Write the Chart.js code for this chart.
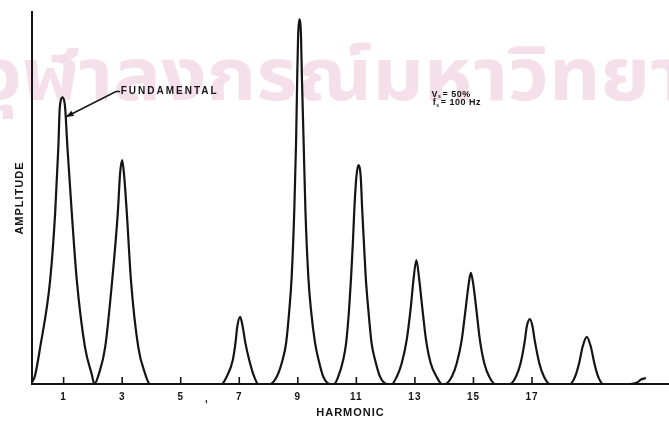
<!DOCTYPE html>
<html lang="en">
<head>
<meta charset="UTF-8">
<title>Harmonic spectrum</title>
<script src="https://cdn.jsdelivr.net/npm/chart.js"></script>
<style>
    html, body { margin: 0; padding: 0; background: #fff; }
    .wrap { position: relative; width: 669px; height: 422px; }
</style>
</head>
<body>
<div class="wrap"><canvas id="spectrum"></canvas></div>
<script>
// odd harmonics marked on the axis
const tickValues = [1, 3, 5, 7, 9, 11, 13, 15, 17];
const tickLabels = ["1", "3", "5", "7", "9", "11", "13", "15", "17"];

// the traced curve (amplitude: tallest peak = 100)
const traceHarmonic = [
    -0.07, 0.02, 0.20, 0.54, 0.71, 0.82, 0.87, 0.97, 1.05, 1.13, 1.28, 1.45, 1.73, 1.96, 2.05,
    2.21, 2.42, 2.66, 2.85, 2.93, 3.00, 3.06, 3.16, 3.30, 3.55, 3.78, 3.95,
    6.40, 6.57, 6.78, 6.87, 6.93, 7.03, 7.12, 7.21, 7.34, 7.51, 7.65,
    8.05, 8.28, 8.48, 8.60, 8.71, 8.79, 8.88, 8.94, 8.98, 9.01, 9.05, 9.11, 9.14, 9.20, 9.26, 9.36, 9.45, 9.59, 9.71, 9.87, 10.10,
    10.24, 10.38, 10.55, 10.65, 10.75, 10.82, 10.88, 10.93, 11.00, 11.07, 11.15, 11.20, 11.26, 11.32, 11.41, 11.52, 11.64, 11.81, 12.05,
    12.21, 12.38, 12.55, 12.72, 12.86, 12.95, 13.05, 13.15, 13.25, 13.38, 13.54, 13.74, 13.92,
    14.03, 14.26, 14.43, 14.60, 14.74, 14.84, 14.91, 14.99, 15.09, 15.22, 15.37, 15.54, 15.74,
    16.25, 16.45, 16.61, 16.76, 16.82, 16.93, 17.02, 17.09, 17.25, 17.41, 17.61,
    18.30, 18.47, 18.61, 18.73, 18.87, 19.01, 19.13, 19.26, 19.43,
    20.35, 20.59, 20.72, 20.86
];
const traceAmplitude = [
    0.6, 2.2, 10.1, 28.5, 46.8, 64.9, 75.9, 78.6, 75.9, 64.9, 46.8, 28.5, 10.1, 2.7, 0,
    2.9, 10.1, 28.5, 46.8, 57.8, 61.4, 57.8, 46.8, 28.5, 10.1, 2.9, 0,
    0, 2.0, 6.6, 11.2, 15.6, 18.4, 15.6, 11.2, 6.6, 2.0, 0,
    0, 2.0, 6.6, 11.2, 20.3, 29.3, 47.7, 66.0, 84.1, 95.3, 100, 95.3, 84.1, 66.0, 47.7, 29.3, 20.3, 11.2, 6.6, 2.0, 0,
    0, 2.0, 6.6, 11.2, 20.3, 29.3, 38.5, 47.7, 56.7, 60, 56.7, 47.7, 38.5, 29.3, 20.3, 11.2, 6.6, 2.0, 0,
    0, 2.0, 5.7, 12.1, 21.1, 28.5, 34, 28.5, 21.1, 12.1, 5.7, 2.0, 0,
    0, 2.0, 5.7, 12.1, 21.1, 27.6, 30.5, 27.6, 21.1, 12.1, 5.7, 2.0, 0,
    0, 2.0, 5.7, 12.1, 15.7, 17.8, 15.7, 12.1, 5.7, 2.0, 0,
    0, 2.0, 5.7, 10.2, 12.9, 10.2, 5.7, 2.0, 0,
    0, 0.4, 1.2, 1.6
];

const ink = '#141414';
const watermark = 'จุฬาลงกรณ์มหาวิทยาลัย';

const points = traceHarmonic.map((h, i) => ({ x: h, y: traceAmplitude[i] }));

// white paper + faint library stamp behind everything
const paper = {
    id: 'paper',
    beforeDraw(chart) {
        const ctx = chart.ctx;
        ctx.save();
        ctx.fillStyle = '#fff';
        ctx.fillRect(0, 0, chart.width, chart.height);
        ctx.font = 'bold 72px "Noto Sans Thai", "Noto Sans Thai Looped", Loma, Garuda, Waree, sans-serif';
        const w2 = ctx.measureText('จุ').width;
        const wEnd = ctx.measureText('จุฬาลงกรณ์มหาวิทย').width;
        const sx = 628 / (wEnd - w2);
        ctx.translate(22 - w2 * sx, 100);
        ctx.scale(sx, 1);
        ctx.fillStyle = '#f5e0ea';
        ctx.fillText(watermark, 0, 0);
        ctx.restore();
        ctx.letterSpacing = '1px';
    }
};

function subLabel(ctx, px, py, main, sub, rest) {
    ctx.font = 'bold 9px "Liberation Sans", Arial, sans-serif';
    ctx.fillText(main, px, py);
    const w = ctx.measureText(main).width;
    ctx.font = 'bold 5px "Liberation Sans", Arial, sans-serif';
    ctx.fillText(sub, px + w, py + 2.5);
    ctx.font = 'bold 9px "Liberation Sans", Arial, sans-serif';
    ctx.fillText(rest, px + w + 4.5, py);
}

// inner tick marks, arrow and notes
const marks = {
    id: 'marks',
    afterDraw(chart) {
        const { ctx, scales: { x, y } } = chart;
        const base = y.getPixelForValue(0);
        ctx.save();
        ctx.strokeStyle = ink;
        ctx.fillStyle = ink;
        ctx.lineWidth = 1.6;
        tickValues.forEach(v => {
            const px = x.getPixelForValue(v);
            ctx.beginPath();
            ctx.moveTo(px, base);
            ctx.lineTo(px, base - 7);
            ctx.stroke();
        });

        // arrow to the fundamental
        const tipX = x.getPixelForValue(1.07), tipY = y.getPixelForValue(73.2);
        const tailX = x.getPixelForValue(2.79), tailY = y.getPixelForValue(80.2);
        const leadX = x.getPixelForValue(2.93);
        ctx.lineWidth = 1.5;
        ctx.beginPath();
        ctx.moveTo(leadX, tailY);
        ctx.lineTo(tailX, tailY);
        ctx.lineTo(tipX, tipY);
        ctx.stroke();
        const ang = Math.atan2(tipY - tailY, tipX - tailX);
        ctx.beginPath();
        ctx.moveTo(tipX, tipY);
        ctx.lineTo(tipX - 8 * Math.cos(ang) + 3 * Math.sin(ang), tipY - 8 * Math.sin(ang) - 3 * Math.cos(ang));
        ctx.lineTo(tipX - 8 * Math.cos(ang) - 3 * Math.sin(ang), tipY - 8 * Math.sin(ang) + 3 * Math.cos(ang));
        ctx.closePath();
        ctx.fill();

        ctx.textBaseline = 'middle';
        ctx.textAlign = 'left';
        ctx.letterSpacing = '2px';
        ctx.font = 'bold 10px "Liberation Sans", Arial, sans-serif';
        ctx.fillText('FUNDAMENTAL', x.getPixelForValue(2.95), y.getPixelForValue(80.3));

        ctx.letterSpacing = '0.5px';
        subLabel(ctx, x.getPixelForValue(13.57), y.getPixelForValue(79.5), 'V', 's', '= 50%');
        subLabel(ctx, x.getPixelForValue(13.61), y.getPixelForValue(77.1), 'f', 's', '= 100 Hz');

        ctx.font = 'bold 10px "Liberation Sans", Arial, sans-serif';
        ctx.fillText(',', x.getPixelForValue(5.83), y.getPixelForValue(-4.1));
        ctx.restore();
    }
};

new Chart(document.getElementById('spectrum'), {
    type: 'line',
    data: {
        datasets: [{
            data: points,
            borderColor: ink,
            borderWidth: 2.2,
            pointRadius: 0,
            fill: false,
            cubicInterpolationMode: 'monotone',
            borderCapStyle: 'round',
            borderJoinStyle: 'round'
        }]
    },
    options: {
        responsive: true,
        maintainAspectRatio: false,
        animation: false,
        devicePixelRatio: 1,
        layout: { padding: { top: 12, right: 0, bottom: 0, left: 0 } },
        plugins: { legend: { display: false }, tooltip: { enabled: false } },
        scales: {
            x: {
                type: 'linear',
                min: -0.08,
                max: 21.68,
                afterBuildTicks: s => { s.ticks = tickValues.map(v => ({ value: v })); },
                afterFit: s => { s.height = 38; },
                grid: { display: false, drawTicks: false },
                border: { display: true, color: ink, width: 2 },
                ticks: {
                    callback: (v, i) => tickLabels[i],
                    font: { family: '"Liberation Sans", Arial, sans-serif', size: 10, weight: 'bold' },
                    color: ink,
                    padding: 7,
                    maxRotation: 0,
                    autoSkip: false
                },
                title: {
                    display: true,
                    text: 'HARMONIC',
                    font: { family: '"Liberation Sans", Arial, sans-serif', size: 11, weight: 'bold' },
                    color: ink,
                    padding: { top: 0, bottom: 2 }
                }
            },
            y: {
                min: 0,
                max: 102,
                afterFit: s => { s.width = 32; },
                grid: { display: false, drawTicks: false },
                border: { display: true, color: ink, width: 2 },
                ticks: { display: false },
                title: {
                    display: true,
                    text: 'AMPLITUDE',
                    font: { family: '"Liberation Sans", Arial, sans-serif', size: 11, weight: 'bold' },
                    color: ink,
                    padding: { top: 13, bottom: 0 }
                }
            }
        }
    },
    plugins: [paper, marks]
});
</script>
</body>
</html>
